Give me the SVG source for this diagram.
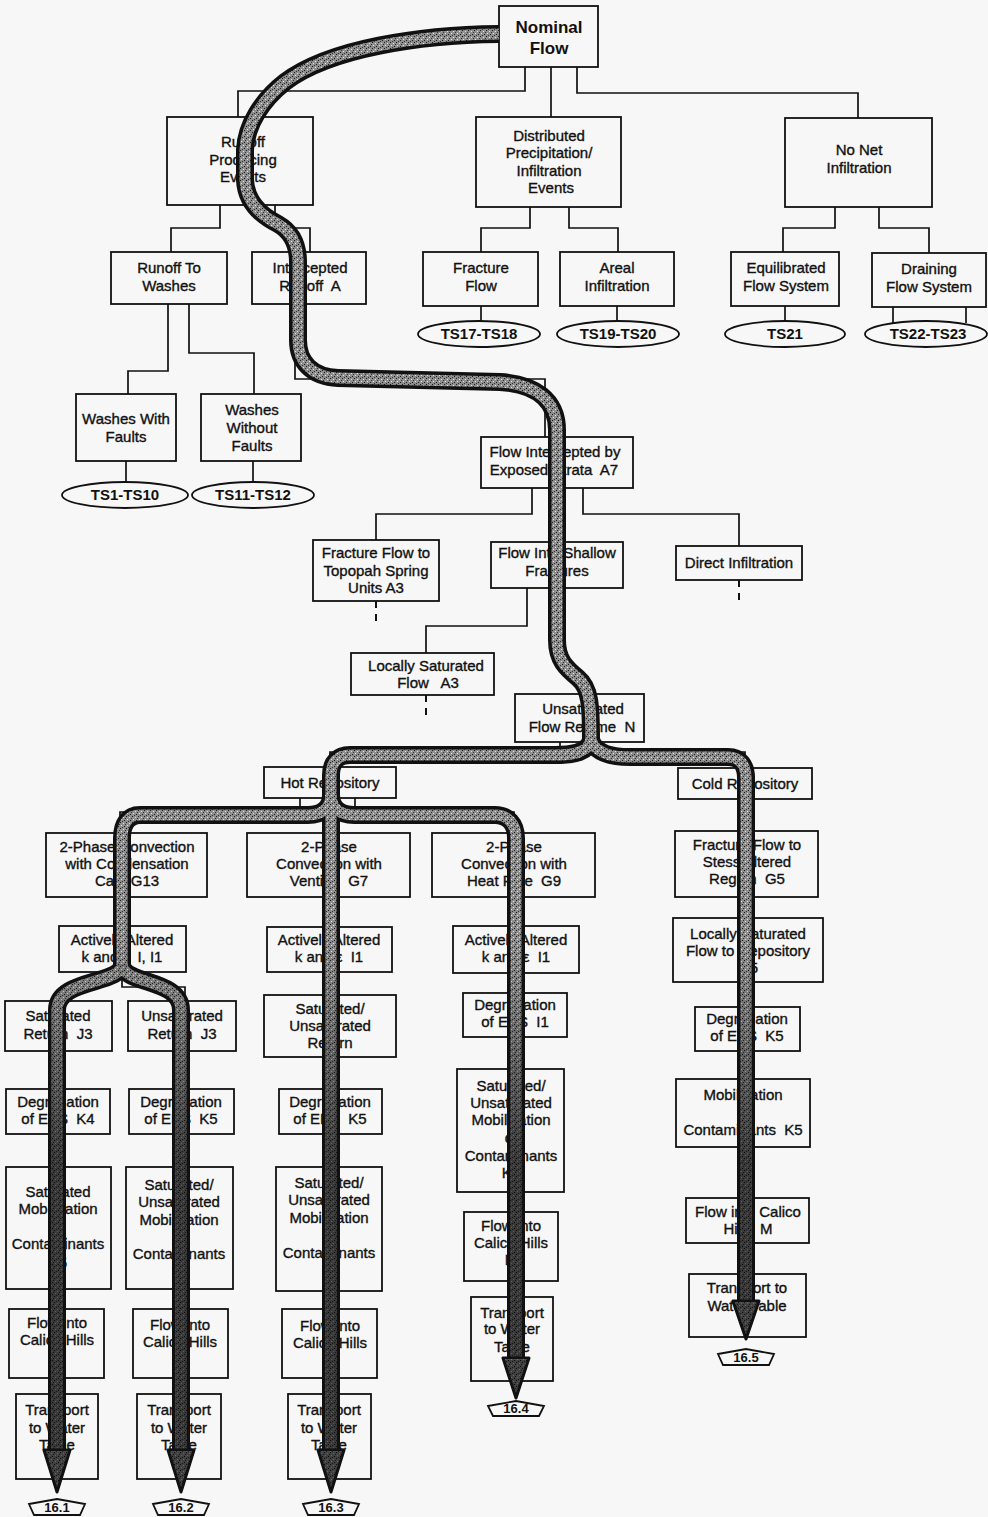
<svg xmlns="http://www.w3.org/2000/svg" width="988" height="1517" viewBox="0 0 988 1517">
<defs>
<pattern id="stip" width="6" height="6" patternUnits="userSpaceOnUse">
<rect width="6" height="6" fill="#8e8e8e"/>
<rect x="0" y="0" width="1" height="1" fill="#1a1a1a"/>
<rect x="3" y="1" width="1" height="1" fill="#e4e4e4"/>
<rect x="1" y="3" width="1" height="1" fill="#e4e4e4"/>
<rect x="4" y="4" width="1" height="1" fill="#1a1a1a"/>
<rect x="2" y="5" width="1" height="1" fill="#333"/>
<rect x="5" y="2" width="1" height="1" fill="#333"/>
</pattern>
<linearGradient id="dk" gradientUnits="userSpaceOnUse" x1="0" y1="940" x2="0" y2="1160">
<stop offset="0" stop-color="#000" stop-opacity="0"/>
<stop offset="1" stop-color="#000" stop-opacity="0.6"/>
</linearGradient>
<style>
.b{fill:none;stroke:#111;stroke-width:1.8}
.c{fill:none;stroke:#111;stroke-width:1.7}
.d{fill:none;stroke:#111;stroke-width:2;stroke-dasharray:7 6}
.t{font-family:"Liberation Sans",Arial,sans-serif;font-size:15px;fill:#111;stroke:#111;stroke-width:0.35;text-anchor:middle}
.h{font-family:"Liberation Sans",Arial,sans-serif;font-size:17px;font-weight:bold;fill:#111;text-anchor:middle}
.e{font-family:"Liberation Sans",Arial,sans-serif;font-size:15px;font-weight:bold;fill:#111;text-anchor:middle}
.p{font-family:"Liberation Sans",Arial,sans-serif;font-size:13px;font-weight:bold;fill:#111;text-anchor:middle}
.bo{fill:none;stroke:#111;stroke-width:18;stroke-linejoin:round}
.bi{fill:none;stroke:url(#stip);stroke-width:11;stroke-linejoin:round}
.bd{fill:none;stroke:url(#dk);stroke-width:11;stroke-linejoin:round}
.ah{fill:url(#stip);stroke:#111;stroke-width:3;stroke-linejoin:round}
.pg{fill:#f7f7f7;stroke:#111;stroke-width:1.8}
</style>
</defs>
<rect width="988" height="1517" fill="#f7f7f7"/>

<g id="connectors">
<path class="c" d="M525 67V91H238V117"/>
<path class="c" d="M551 67V117"/>
<path class="c" d="M577 67V93H858V118"/>
<path class="c" d="M220 205V228H171V252"/>
<path class="c" d="M275 205V228H310V252"/>
<path class="c" d="M530 207V228H481V252"/>
<path class="c" d="M569 207V228H618V252"/>
<path class="c" d="M835 207V228H783V252"/>
<path class="c" d="M879 207V228H929V253"/>
<path class="c" d="M481 306V321"/>
<path class="c" d="M617 306V321"/>
<path class="c" d="M785 306V321"/>
<path class="c" d="M893 307V323"/>
<path class="c" d="M966 307V323"/>
<path class="c" d="M168 304V371H128V394"/>
<path class="c" d="M189 304V353H254V394"/>
<path class="c" d="M126 461V482"/>
<path class="c" d="M253 461V482"/>
<path class="c" d="M295 304V379H545V437"/>
<path class="c" d="M532 488V514H376V540"/>
<path class="c" d="M583 488V514H739V546"/>
<path class="c" d="M557 488V542"/>
<path class="c" d="M527 588V626H426V653"/>
<path class="d" d="M376 601V626"/>
<path class="d" d="M739 580V605"/>
<path class="d" d="M426 695V720"/>
<path class="c" d="M560 742V752H330V767"/>
<path class="c" d="M560 752H745V768"/>
<path class="c" d="M300 798V812H120V833"/>
<path class="c" d="M355 798V812H514V833"/>
<path class="c" d="M330 798V833"/>
<path class="c" d="M122 972V987H185V1001"/>
</g>

<g id="n1"><rect class="b" x="499" y="6" width="99" height="61"/><text class="h" x="549" y="33">Nominal</text><text class="h" x="549" y="54">Flow</text></g>
<g id="n2"><rect class="b" x="167" y="117" width="146" height="88"/><text class="t" x="243" y="147">Runoff</text><text class="t" x="243" y="165">Producing</text><text class="t" x="243" y="182">Events</text></g>
<g id="n3"><rect class="b" x="476" y="117" width="145" height="90"/><text class="t" x="549" y="141">Distributed</text><text class="t" x="549" y="158">Precipitation/</text><text class="t" x="549" y="176">Infiltration</text><text class="t" x="551" y="193">Events</text></g>
<g id="n4"><rect class="b" x="785" y="118" width="147" height="89"/><text class="t" x="859" y="155">No Net</text><text class="t" x="859" y="173">Infiltration</text></g>
<g id="n5"><rect class="b" x="111" y="252" width="116" height="52"/><text class="t" x="169" y="273">Runoff To</text><text class="t" x="169" y="291">Washes</text></g>
<g id="n6"><rect class="b" x="252" y="252" width="114" height="52"/><text class="t" x="310" y="273">Intercepted</text><text class="t" x="310" y="291">Runoff&#160; A</text></g>
<g id="n7"><rect class="b" x="423" y="252" width="115" height="54"/><text class="t" x="481" y="273">Fracture</text><text class="t" x="481" y="291">Flow</text></g>
<g id="n8"><rect class="b" x="560" y="252" width="114" height="54"/><text class="t" x="617" y="273">Areal</text><text class="t" x="617" y="291">Infiltration</text></g>
<g id="n9"><rect class="b" x="731" y="252" width="108" height="54"/><text class="t" x="786" y="273">Equilibrated</text><text class="t" x="786" y="291">Flow System</text></g>
<g id="n10"><rect class="b" x="872" y="253" width="114" height="54"/><text class="t" x="929" y="274">Draining</text><text class="t" x="929" y="292">Flow System</text></g>
<g id="o1"><ellipse class="b" cx="479" cy="334" rx="61" ry="13"/><text class="e" x="479" y="339">TS17-TS18</text></g>
<g id="o2"><ellipse class="b" cx="618" cy="334" rx="61" ry="13"/><text class="e" x="618" y="339">TS19-TS20</text></g>
<g id="o3"><ellipse class="b" cx="785" cy="334" rx="60" ry="13"/><text class="e" x="785" y="339">TS21</text></g>
<g id="o4"><ellipse class="b" cx="926" cy="334" rx="61" ry="13"/><text class="e" x="928" y="339">TS22-TS23</text></g>
<g id="n11"><rect class="b" x="76" y="394" width="100" height="67"/><text class="t" x="126" y="424">Washes With</text><text class="t" x="126" y="442">Faults</text></g>
<g id="n12"><rect class="b" x="201" y="394" width="100" height="67"/><text class="t" x="252" y="415">Washes</text><text class="t" x="252" y="433">Without</text><text class="t" x="252" y="451">Faults</text></g>
<g id="o5"><ellipse class="b" cx="125" cy="495" rx="63" ry="13"/><text class="e" x="125" y="500">TS1-TS10</text></g>
<g id="o6"><ellipse class="b" cx="253" cy="495" rx="61" ry="13"/><text class="e" x="253" y="500">TS11-TS12</text></g>
<g id="n13"><rect class="b" x="481" y="437" width="152" height="51"/><text class="t" x="555" y="457">Flow Intercepted by</text><text class="t" x="554" y="475">Exposed Strata&#160; A7</text></g>
<g id="n14"><rect class="b" x="313" y="540" width="126" height="61"/><text class="t" x="376" y="558">Fracture Flow to</text><text class="t" x="376" y="576">Topopah Spring</text><text class="t" x="376" y="593">Units A3</text></g>
<g id="n15"><rect class="b" x="491" y="542" width="132" height="46"/><text class="t" x="557" y="558">Flow Into Shallow</text><text class="t" x="557" y="576">Fractures</text></g>
<g id="n16"><rect class="b" x="676" y="546" width="126" height="34"/><text class="t" x="739" y="568">Direct Infiltration</text></g>
<g id="n17"><rect class="b" x="351" y="653" width="143" height="42"/><text class="t" x="426" y="671">Locally Saturated</text><text class="t" x="428" y="688">Flow&#160;&#160; A3</text></g>
<g id="n18"><rect class="b" x="515" y="694" width="129" height="48"/><text class="t" x="583" y="714">Unsaturated</text><text class="t" x="582" y="732">Flow Regime&#160; N</text></g>
<g id="n19"><rect class="b" x="264" y="767" width="132" height="31"/><text class="t" x="330" y="788">Hot Repository</text></g>
<g id="n20"><rect class="b" x="678" y="768" width="134" height="31"/><text class="t" x="745" y="789">Cold Repository</text></g>
<g id="n21"><rect class="b" x="46" y="833" width="161" height="64"/><text class="t" x="127" y="852">2-Phase Convection</text><text class="t" x="127" y="869">with Condensation</text><text class="t" x="127" y="886">Cap&#160; G13</text></g>
<g id="n22"><rect class="b" x="247" y="833" width="163" height="64"/><text class="t" x="329" y="852">2-Phase</text><text class="t" x="329" y="869">Convection with</text><text class="t" x="329" y="886">Venting&#160; G7</text></g>
<g id="n23"><rect class="b" x="432" y="833" width="163" height="64"/><text class="t" x="514" y="852">2-Phase</text><text class="t" x="514" y="869">Convection with</text><text class="t" x="514" y="886">Heat Pipe&#160; G9</text></g>
<g id="n24"><rect class="b" x="675" y="831" width="143" height="66"/><text class="t" x="747" y="850">Fracture Flow to</text><text class="t" x="747" y="867">Stess Altered</text><text class="t" x="747" y="884">Region&#160; G5</text></g>
<g id="n25"><rect class="b" x="59" y="926" width="127" height="46"/><text class="t" x="122" y="945">Actively Altered</text><text class="t" x="122" y="962">k and ε&#160; I, I1</text></g>
<g id="n26"><rect class="b" x="267" y="927" width="125" height="45"/><text class="t" x="329" y="945">Actively Altered</text><text class="t" x="329" y="962">k and ε&#160; I1</text></g>
<g id="n27"><rect class="b" x="453" y="926" width="126" height="47"/><text class="t" x="516" y="945">Actively Altered</text><text class="t" x="516" y="962">k and ε&#160; I1</text></g>
<g id="n28"><rect class="b" x="673" y="918" width="150" height="64"/><text class="t" x="748" y="939">Locally Saturated</text><text class="t" x="748" y="956">Flow to Repository</text><text class="t" x="748" y="973">G5</text></g>
<g id="n29"><rect class="b" x="5" y="1001" width="107" height="50"/><text class="t" x="58" y="1021">Saturated</text><text class="t" x="58" y="1039">Return&#160; J3</text></g>
<g id="n30"><rect class="b" x="128" y="1001" width="108" height="50"/><text class="t" x="182" y="1021">Unsaturated</text><text class="t" x="182" y="1039">Return&#160; J3</text></g>
<g id="n31"><rect class="b" x="264" y="995" width="132" height="62"/><text class="t" x="330" y="1014">Saturated/</text><text class="t" x="330" y="1031">Unsaturated</text><text class="t" x="330" y="1048">Return</text></g>
<g id="n32"><rect class="b" x="463" y="993" width="104" height="44"/><text class="t" x="515" y="1010">Degradation</text><text class="t" x="515" y="1027">of EBS&#160; I1</text></g>
<g id="n33"><rect class="b" x="695" y="1007" width="105" height="44"/><text class="t" x="747" y="1024">Degradation</text><text class="t" x="747" y="1041">of EBS&#160; K5</text></g>
<g id="n34"><rect class="b" x="6" y="1089" width="104" height="45"/><text class="t" x="58" y="1107">Degradation</text><text class="t" x="58" y="1124">of EBS&#160; K4</text></g>
<g id="n35"><rect class="b" x="129" y="1089" width="105" height="45"/><text class="t" x="181" y="1107">Degradation</text><text class="t" x="181" y="1124">of EBS&#160; K5</text></g>
<g id="n36"><rect class="b" x="279" y="1089" width="103" height="45"/><text class="t" x="330" y="1107">Degradation</text><text class="t" x="330" y="1124">of EBS&#160; K5</text></g>
<g id="n37"><rect class="b" x="457" y="1069" width="107" height="123"/><text class="t" x="511" y="1091">Saturated/</text><text class="t" x="511" y="1108">Unsaturated</text><text class="t" x="511" y="1125">Mobilization</text><text class="t" x="511" y="1143">of</text><text class="t" x="511" y="1161">Contaminants</text><text class="t" x="511" y="1178">K5</text></g>
<g id="n38"><rect class="b" x="676" y="1079" width="134" height="68"/><text class="t" x="743" y="1100">Mobilization</text><text class="t" x="743" y="1135">Contaminants&#160; K5</text></g>
<g id="n39"><rect class="b" x="6" y="1167" width="105" height="122"/><text class="t" x="58" y="1197">Saturated</text><text class="t" x="58" y="1214">Mobilization</text><text class="t" x="58" y="1249">Contaminants</text><text class="t" x="58" y="1268">K5</text></g>
<g id="n40"><rect class="b" x="126" y="1167" width="107" height="122"/><text class="t" x="179" y="1190">Saturated/</text><text class="t" x="179" y="1207">Unsaturated</text><text class="t" x="179" y="1225">Mobilization</text><text class="t" x="179" y="1259">Contaminants</text></g>
<g id="n41"><rect class="b" x="276" y="1167" width="106" height="124"/><text class="t" x="329" y="1188">Saturated/</text><text class="t" x="329" y="1205">Unsaturated</text><text class="t" x="329" y="1223">Mobilization</text><text class="t" x="329" y="1258">Contaminants</text></g>
<g id="n42"><rect class="b" x="9" y="1309" width="95" height="69"/><text class="t" x="57" y="1328">Flow into</text><text class="t" x="57" y="1345">Calico Hills</text></g>
<g id="n43"><rect class="b" x="133" y="1309" width="95" height="69"/><text class="t" x="180" y="1330">Flow into</text><text class="t" x="180" y="1347">Calico Hills</text></g>
<g id="n44"><rect class="b" x="282" y="1309" width="95" height="69"/><text class="t" x="330" y="1331">Flow into</text><text class="t" x="330" y="1348">Calico Hills</text></g>
<g id="n45"><rect class="b" x="464" y="1212" width="94" height="69"/><text class="t" x="511" y="1231">Flow into</text><text class="t" x="511" y="1248">Calico Hills</text><text class="t" x="511" y="1265">M</text></g>
<g id="n46"><rect class="b" x="686" y="1198" width="123" height="45"/><text class="t" x="748" y="1217">Flow into Calico</text><text class="t" x="748" y="1234">Hills&#160; M</text></g>
<g id="n47"><rect class="b" x="16" y="1394" width="82" height="85"/><text class="t" x="57" y="1415">Transport</text><text class="t" x="57" y="1433">to Water</text><text class="t" x="57" y="1450">Table</text></g>
<g id="n48"><rect class="b" x="137" y="1394" width="84" height="85"/><text class="t" x="179" y="1415">Transport</text><text class="t" x="179" y="1433">to Water</text><text class="t" x="179" y="1450">Table</text></g>
<g id="n49"><rect class="b" x="288" y="1394" width="83" height="85"/><text class="t" x="329" y="1415">Transport</text><text class="t" x="329" y="1433">to Water</text><text class="t" x="329" y="1450">Table</text></g>
<g id="n50"><rect class="b" x="471" y="1297" width="82" height="84"/><text class="t" x="512" y="1318">Transport</text><text class="t" x="512" y="1334">to Water</text><text class="t" x="512" y="1352">Table</text></g>
<g id="n51"><rect class="b" x="689" y="1274" width="117" height="63"/><text class="t" x="747" y="1293">Transport to</text><text class="t" x="747" y="1311">Water Table</text></g>

<g id="flowpath">
<g class="bo">
<path d="M499 34C420 35 330 48 285 82C262 100 246 125 245 150L245 180C246 200 258 214 278 224C292 232 298 245 298 262L298 340C298 362 312 377 338 378L500 382C535 384 557 400 557 430L557 640C557 660 566 668 578 678C590 688 591 705 591 740"/>
<path d="M591 740C588 752 575 755 555 755L350 755C338 755 331 762 331 775L331 1455"/>
<path d="M591 740C595 752 610 757 630 757L728 757C740 757 746 765 746 778L746 1305"/>
<path d="M331 795C331 808 322 815 308 815L140 815C128 815 122 824 122 838L122 966"/>
<path d="M122 964C122 985 57 978 57 1010L57 1455"/>
<path d="M122 964C122 985 181 978 181 1010L181 1455"/>
<path d="M331 795C331 808 340 815 354 815L495 815C508 815 516 824 516 838L516 1362"/>
</g>
<g class="bi">
<path d="M499 34C420 35 330 48 285 82C262 100 246 125 245 150L245 180C246 200 258 214 278 224C292 232 298 245 298 262L298 340C298 362 312 377 338 378L500 382C535 384 557 400 557 430L557 640C557 660 566 668 578 678C590 688 591 705 591 740"/>
<path d="M591 740C588 752 575 755 555 755L350 755C338 755 331 762 331 775L331 1455"/>
<path d="M591 740C595 752 610 757 630 757L728 757C740 757 746 765 746 778L746 1305"/>
<path d="M331 795C331 808 322 815 308 815L140 815C128 815 122 824 122 838L122 966"/>
<path d="M122 964C122 985 57 978 57 1010L57 1455"/>
<path d="M122 964C122 985 181 978 181 1010L181 1455"/>
<path d="M331 795C331 808 340 815 354 815L495 815C508 815 516 824 516 838L516 1362"/>
</g>
<g class="bd">
<path d="M331 900L331 1455"/>
<path d="M746 900L746 1305"/>
<path d="M122 900L122 966"/>
<path d="M122 964C122 985 57 978 57 1010L57 1455"/>
<path d="M122 964C122 985 181 978 181 1010L181 1455"/>
<path d="M516 900L516 1362"/>
</g>
<polygon class="ah" points="44,1450 70,1450 57,1492"/>
<polygon class="ah" points="168,1450 194,1450 181,1492"/>
<polygon class="ah" points="318,1450 344,1450 331,1492"/>
<polygon class="ah" points="503,1358 529,1358 516,1398"/>
<polygon class="ah" points="733,1301 759,1301 746,1339"/>
<polygon points="46,1452 68,1452 57,1488" fill="#000" opacity="0.55"/>
<polygon points="170,1452 192,1452 181,1488" fill="#000" opacity="0.55"/>
<polygon points="320,1452 342,1452 331,1488" fill="#000" opacity="0.55"/>
<polygon points="505,1360 527,1360 516,1394" fill="#000" opacity="0.55"/>
<polygon points="735,1303 757,1303 746,1335" fill="#000" opacity="0.55"/>
</g>

<g id="p1"><polygon class="pg" points="29,1504 57,1499 85,1504 80,1515 34,1515"/><text class="p" x="57" y="1512">16.1</text></g>
<g id="p2"><polygon class="pg" points="153,1504 181,1499 209,1504 204,1515 158,1515"/><text class="p" x="181" y="1512">16.2</text></g>
<g id="p3"><polygon class="pg" points="303,1504 331,1499 359,1504 354,1515 308,1515"/><text class="p" x="331" y="1512">16.3</text></g>
<g id="p4"><polygon class="pg" points="488,1406 516,1401 544,1406 539,1416 493,1416"/><text class="p" x="516" y="1413">16.4</text></g>
<g id="p5"><polygon class="pg" points="718,1354 746,1349 774,1354 769,1365 723,1365"/><text class="p" x="746" y="1362">16.5</text></g>
</svg>
